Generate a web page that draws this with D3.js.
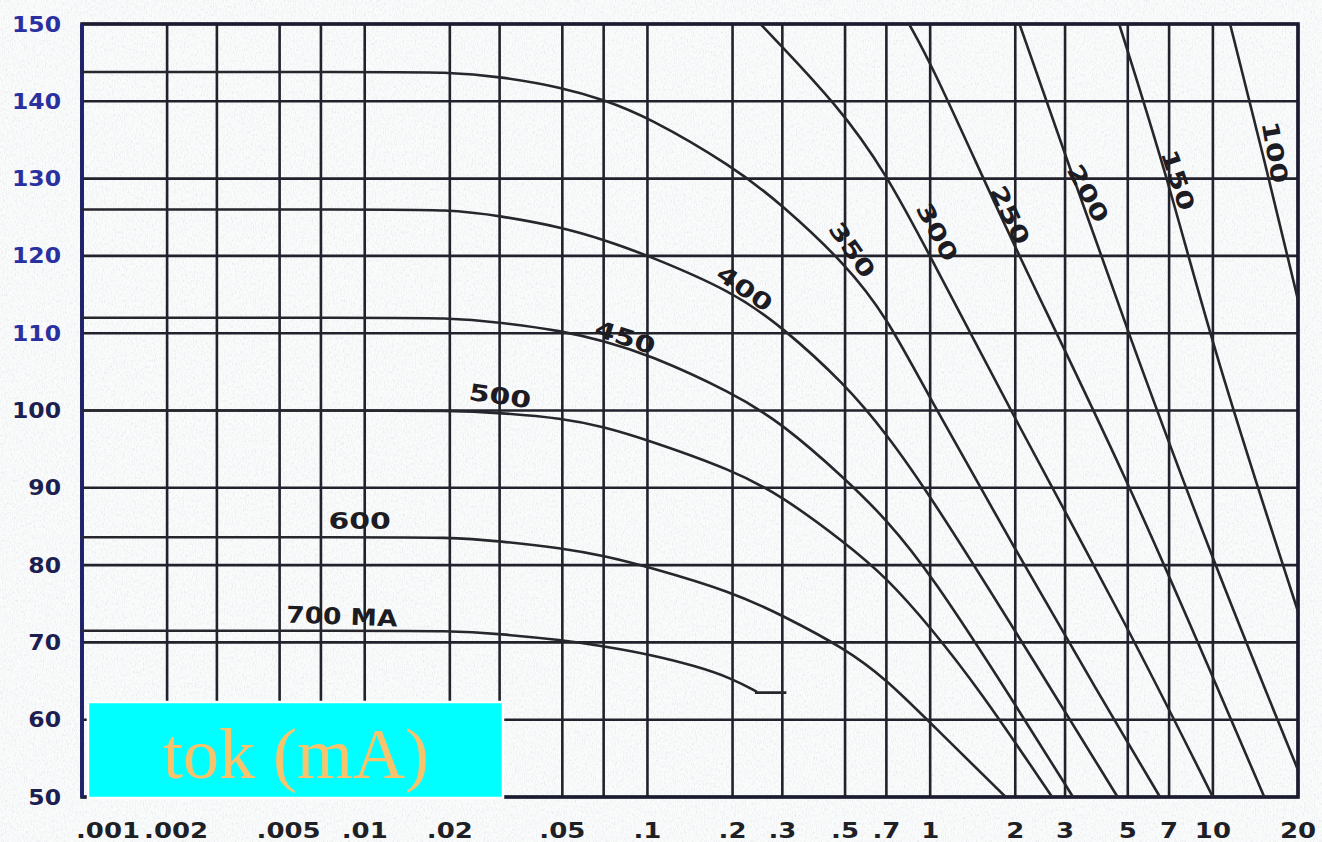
<!DOCTYPE html>
<html>
<head>
<meta charset="utf-8">
<script src="https://cdn.jsdelivr.net/npm/d3@7"></script>
<style>
  html, body { margin: 0; padding: 0; background: #f7f8f9; }
  svg { display: block; }
</style>
</head>
<body>
<svg id="chart" width="1322" height="842"></svg>
<script>
// Exposure time (s) vs. kVp rating curves for tube currents in mA.
const xTickValues = [0.001, 0.002, 0.005, 0.01, 0.02, 0.05, 0.1, 0.2, 0.3, 0.5, 0.7, 1, 2, 3, 5, 7, 10, 20];
const xTickLabels = [".001", ".002", ".005", ".01", ".02", ".05", ".1", ".2", ".3", ".5", ".7", "1", "2", "3", "5", "7", "10", "20"];
const xGridValues = [0.001, 0.002, 0.003, 0.005, 0.007, 0.01, 0.02, 0.03, 0.05, 0.07, 0.1, 0.2, 0.3, 0.5, 0.7, 1, 2, 3, 5, 7, 10, 20];
const yTickValues = [50, 60, 70, 80, 90, 100, 110, 120, 130, 140, 150];

// [time s, kVp] points along each current curve
const curve700 = [[0.001, 71.5], [0.01, 71.5], [0.02, 71.5], [0.03, 71.1], [0.05, 70.3], [0.07, 69.5], [0.1, 68.5], [0.15, 66.9], [0.2, 65.3], [0.244, 63.6]];
const curve700End = [[0.24, 63.5], [0.31, 63.5]];
const curve600 = [[0.001, 83.6], [0.01, 83.6], [0.02, 83.6], [0.03, 83.1], [0.05, 82.2], [0.07, 81.2], [0.1, 79.8], [0.2, 76.5], [0.3, 73.5], [0.5, 69.2], [0.7, 65.2], [1, 59.6], [1.85, 50]];
const curve500 = [[0.001, 100.0], [0.01, 100.0], [0.02, 100.0], [0.03, 99.7], [0.05, 99.0], [0.07, 97.9], [0.1, 96.2], [0.2, 92.3], [0.3, 88.9], [0.5, 82.9], [0.7, 78.4], [1, 72.0], [1.5, 63.8], [2.7, 50]];
const curve450 = [[0.001, 112.0], [0.01, 112.0], [0.02, 112.0], [0.03, 111.4], [0.05, 110.3], [0.07, 109.0], [0.1, 107.3], [0.2, 102.3], [0.3, 98.3], [0.5, 91.2], [0.7, 85.9], [1, 79.0], [2, 62.0], [3.2, 50]];
const curve400 = [[0.001, 126.0], [0.01, 126.0], [0.02, 126.0], [0.03, 125.2], [0.05, 123.7], [0.07, 122.1], [0.1, 120.1], [0.2, 115.4], [0.3, 110.8], [0.5, 103.4], [0.7, 97.0], [1, 89.0], [2, 71.5], [4.6, 50]];
const curve350 = [[0.001, 143.8], [0.01, 143.8], [0.02, 143.8], [0.03, 143.2], [0.05, 141.8], [0.07, 140.2], [0.1, 138.0], [0.2, 131.6], [0.3, 126.6], [0.5, 119.0], [0.7, 112.2], [1, 101.5], [2, 82], [4, 63], [6.5, 50]];
const curve300 = [[0.251, 150], [0.477, 139.3], [0.7, 130.6], [1, 120.0], [2, 98.8], [5, 72], [10, 50]];
const curve250 = [[0.842, 150], [1, 145.1], [1.5, 131.0], [2, 121.0], [5, 91], [10, 65.5], [15.2, 50]];
const curve200 = [[2.07, 150], [3.05, 132.4], [5, 110.2], [10, 80.5], [20, 53.5]];
const curve150 = [[4.66, 150], [7, 129.5], [10, 108], [20, 74]];
const curve100 = [[11.5, 150], [15, 133.3], [20, 114.3]];

const curves = [curve700, curve600, curve500, curve450, curve400, curve350, curve300, curve250, curve200, curve150, curve100];

// curve labels: text, time s, kVp, rotation deg
const labelText = ["700 MA", "600", "500", "450", "400", "350", "300", "250", "200", "150", "100"];
const labelTime = [0.0083, 0.0096, 0.0301, 0.0834, 0.221, 0.53, 1.06, 1.92, 3.62, 7.53, 16.6];
const labelKvp = [73.4, 85.8, 101.9, 109.5, 115.8, 120.8, 123.1, 125.3, 128.1, 129.8, 133.4];
const labelAngle = [2, 0, 8, 18, 35, 55, 62, 65, 62, 72, 80];

const legendText = "tok (mA)";

const svg = d3.select("#chart");
const W = 1322, H = 842;
const plot = { left: 82, right: 1298, top: 24, bottom: 797 };

// paper texture
const defs = svg.append("defs");
const f = defs.append("filter").attr("id", "grain").attr("x", 0).attr("y", 0).attr("width", "100%").attr("height", "100%");
f.append("feTurbulence").attr("type", "fractalNoise").attr("baseFrequency", "0.9 0.35").attr("numOctaves", 2).attr("seed", 4).attr("result", "n");
f.append("feColorMatrix").attr("in", "n").attr("type", "matrix")
  .attr("values", "0 0 0 0 0.6  0 0 0 0 0.64  0 0 0 0 0.7  0 0 0 -2.4 1.3");
svg.append("rect").attr("width", W).attr("height", H).attr("fill", "#fafbfb");
svg.append("rect").attr("width", W).attr("height", H).attr("filter", "url(#grain)").attr("opacity", 0.4);

const x = d3.scaleLog().domain([0.001, 20]).range([plot.left, plot.right]);
const y = d3.scaleLinear().domain([50, 150]).range([plot.bottom, plot.top]);

const ink = "#22222c";

// grid
svg.append("g").selectAll("line").data(xGridValues).join("line")
  .attr("x1", d => x(d)).attr("x2", d => x(d))
  .attr("y1", plot.top).attr("y2", plot.bottom)
  .attr("stroke", ink).attr("stroke-width", 2.6);
svg.append("g").selectAll("line").data(yTickValues).join("line")
  .attr("x1", plot.left).attr("x2", plot.right)
  .attr("y1", d => y(d)).attr("y2", d => y(d))
  .attr("stroke", ink).attr("stroke-width", 2.6);

// frame
svg.append("rect")
  .attr("x", plot.left).attr("y", plot.top)
  .attr("width", plot.right - plot.left).attr("height", plot.bottom - plot.top)
  .attr("fill", "none").attr("stroke", "#1b1c30").attr("stroke-width", 3.6);
svg.append("line").attr("x1", plot.left).attr("x2", plot.left).attr("y1", plot.top).attr("y2", plot.bottom)
  .attr("stroke", "#1e2170").attr("stroke-width", 3.6);

// curves: smooth B-spline through the traced points
const clip = defs.append("clipPath").attr("id", "plotclip");
clip.append("rect").attr("x", plot.left).attr("y", plot.top)
  .attr("width", plot.right - plot.left).attr("height", plot.bottom - plot.top);

const line = d3.line().x(d => x(d[0])).y(d => y(d[1])).curve(d3.curveBasis);
const cg = svg.append("g").attr("clip-path", "url(#plotclip)");
cg.selectAll("path.curve").data(curves).join("path")
  .attr("class", "curve")
  .attr("d", line)
  .attr("fill", "none").attr("stroke", "#26262c").attr("stroke-width", 2.6);
cg.append("path").attr("d", d3.line().x(d => x(d[0])).y(d => y(d[1]))(curve700End))
  .attr("fill", "none").attr("stroke", "#26262c").attr("stroke-width", 2.6);

// curve labels (wide stencil-like lettering)
svg.append("g").selectAll("text").data(labelText).join("text")
  .attr("transform", (d, i) => `translate(${x(labelTime[i])},${y(labelKvp[i])}) rotate(${labelAngle[i]}) scale(${d.length > 3 ? 1.15 : 1.3},1)`)
  .attr("text-anchor", "middle").attr("dy", "0.36em")
  .attr("font-family", "DejaVu Sans, sans-serif").attr("font-size", 23)
  .attr("font-weight", "bold")
  .attr("fill", "#1c1c22")
  .text(d => d);

// y axis labels
svg.append("g").selectAll("text").data(yTickValues).join("text")
  .attr("transform", d => `translate(61,${y(d)}) scale(1.12,1)`)
  .attr("dy", "0.36em")
  .attr("text-anchor", "end")
  .attr("font-family", "DejaVu Sans, sans-serif").attr("font-weight", "bold").attr("font-size", 21)
  .attr("fill", d => d >= 110 ? "#2b30a0" : "#1d1f50")
  .text(d => d);

// x axis labels; the ".00x" labels sit a little right of their grid line
svg.append("g").selectAll("text").data(xTickValues).join("text")
  .attr("transform", (d, i) => {
    const lab = xTickLabels[i];
    const px = i === 0 ? x(d) - 6 : x(d) + (lab.startsWith(".00") ? 9 : 0);
    return `translate(${px},838) scale(1.18,1)`;
  })
  .attr("text-anchor", (d, i) => i === 0 ? "start" : "middle")
  .attr("font-family", "DejaVu Sans, sans-serif").attr("font-size", 22).attr("font-weight", "bold")
  .attr("fill", "#1f1f26")
  .text((d, i) => xTickLabels[i]);

// legend box
const lg = svg.append("g");
lg.append("rect").attr("x", 88).attr("y", 702).attr("width", 415).attr("height", 96)
  .attr("fill", "#00ffff").attr("stroke", "#ffffff").attr("stroke-width", 2.5);
lg.append("text").attr("x", 296).attr("y", 778)
  .attr("text-anchor", "middle")
  .attr("font-family", "Liberation Serif, Times New Roman, serif").attr("font-size", 72)
  .attr("fill", "#f9c36b")
  .text(legendText);
</script>
</body>
</html>
